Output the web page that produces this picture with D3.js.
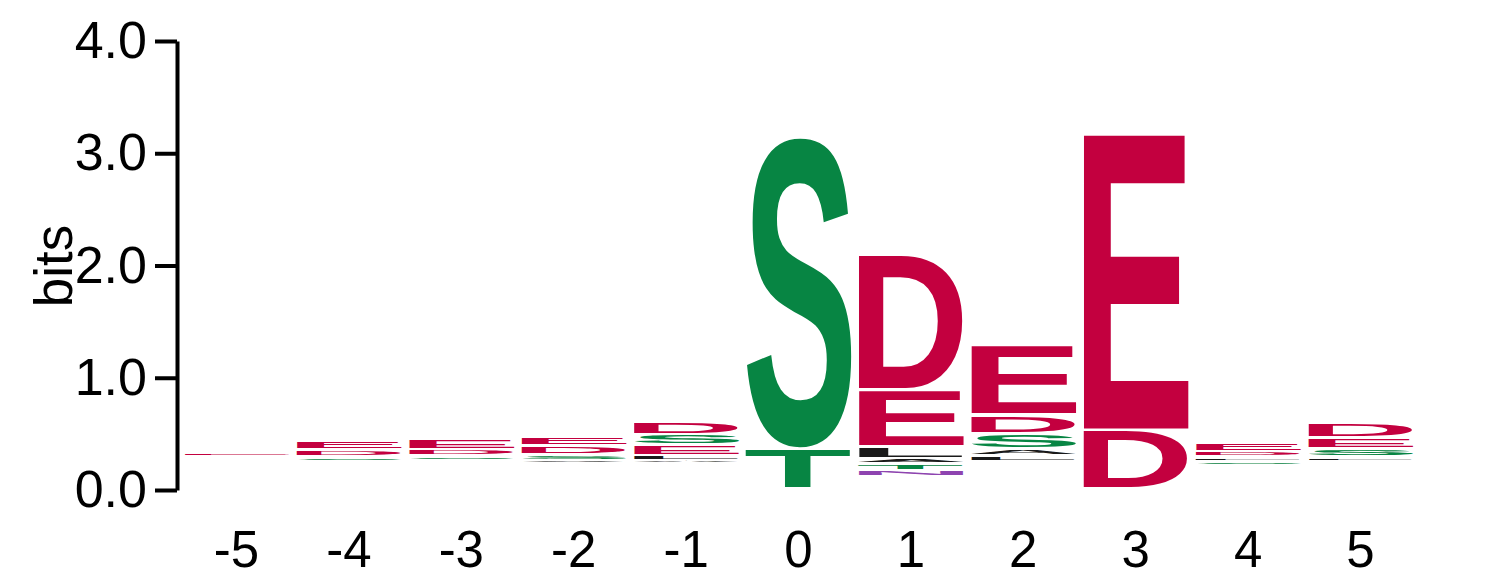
<!DOCTYPE html>
<html>
<head>
<meta charset="utf-8">
<script src="https://cdn.jsdelivr.net/npm/d3@7"></script>
<style>
  html, body { margin: 0; padding: 0; background: #fff; }
  svg { display: block; }
</style>
</head>
<body>
<svg id="chart" width="1486" height="583"></svg>
<script>
// ---- data (bits) ----
const positions = [-5, -4, -3, -2, -1, 0, 1, 2, 3, 4, 5];
const baseBits = [0.303, 0.258, 0.263, 0.236, 0.236, 0.011, 0.116, 0.258, 0.009, 0.214, 0.258];
const stackLetters = [
  ["E"],
  ["S", "D", "E"],
  ["S", "D", "E"],
  ["V", "S", "D", "E"],
  ["A", "L", "E", "S", "D"],
  ["T", "S"],
  ["N", "T", "A", "L", "E", "D"],
  ["L", "A", "S", "D", "E"],
  ["D", "E"],
  ["S", "L", "D", "E"],
  ["L", "S", "E", "D"]
];
const stackBits = [
  [0.036],
  [0.043, 0.062, 0.087],
  [0.043, 0.057, 0.096],
  [0.029, 0.053, 0.080, 0.083],
  [0.029, 0.045, 0.091, 0.096, 0.118],
  [0.356, 2.782],
  [0.060, 0.062, 0.044, 0.106, 0.506, 1.205],
  [0.050, 0.063, 0.134, 0.166, 0.619],
  [0.526, 2.641],
  [0.040, 0.040, 0.053, 0.081],
  [0.042, 0.068, 0.097, 0.127]
];
const yTicks = [0, 1, 2, 3, 4];

const colorOf = l => {
  if ("DE".includes(l)) return "#C3003F";
  if ("STGYC".includes(l)) return "#078543";
  if ("NQ".includes(l)) return "#8E44B0";
  if ("KRH".includes(l)) return "#1F4FB5";
  return "#1a1a1a";
};

const svg = d3.select("#chart");
const y = d3.scaleLinear().domain([0, 4]).range([490, 41]);
const x = d3.scaleBand().domain(positions).range([180.3, 1416.7])
  .paddingInner(0.057).paddingOuter(0.0285);

// glyph ink metrics
const FONT = "bold 100px 'Liberation Sans'";
const ctx = document.createElement("canvas").getContext("2d");
ctx.font = FONT;
const metrics = {};
function m(l) {
  if (!metrics[l]) {
    const t = ctx.measureText(l);
    metrics[l] = { L: t.actualBoundingBoxLeft, R: t.actualBoundingBoxRight,
                   A: t.actualBoundingBoxAscent, D: t.actualBoundingBoxDescent };
  }
  return metrics[l];
}

const logo = svg.append("g");
positions.forEach((p, i) => {
  let acc = baseBits[i];
  stackLetters[i].forEach((l, j) => {
    const b0 = acc, b1 = acc + stackBits[i][j];
    acc = b1;
    const yb = y(b0), yt = y(b1);
    const hpx = yb - yt;
    const inset = Math.min(1.5, 0.35 * hpx);
    const top = yt + inset, h = hpx - 2 * inset;
    const x0 = x(p), w = x.bandwidth();
    const g = m(l);
    const sx = w / (g.L + g.R), sy = h / (g.A + g.D);
    logo.append("text")
      .attr("transform", `translate(${x0},${top}) scale(${sx},${sy}) translate(${g.L},${g.A})`)
      .attr("font-family", "'Liberation Sans'")
      .attr("font-weight", "bold")
      .attr("font-size", 100)
      .attr("fill", colorOf(l))
      .text(l);
  });
});

// y axis
const yAxis = svg.append("g")
  .attr("transform", "translate(177,0)")
  .call(d3.axisLeft(y).tickValues(yTicks).tickFormat(d3.format(".1f"))
    .tickSize(22).tickSizeOuter(0).tickPadding(8));
yAxis.selectAll("path.domain").attr("stroke", "#000").attr("stroke-width", 4);
yAxis.selectAll(".tick line").attr("stroke", "#000").attr("stroke-width", 4);
yAxis.selectAll(".tick text")
  .attr("font-family", "'Liberation Sans', Arial, sans-serif")
  .attr("font-size", 52).attr("fill", "#000");

// x axis labels
const xAxis = svg.append("g")
  .attr("transform", "translate(0,531)")
  .call(d3.axisBottom(x).tickSize(0).tickPadding(0));
xAxis.select("path.domain").remove();
xAxis.selectAll(".tick text")
  .attr("font-family", "'Liberation Sans', Arial, sans-serif")
  .attr("font-size", 51).attr("fill", "#000");

// y label
svg.append("text")
  .attr("transform", "translate(72,266) rotate(-90)")
  .attr("text-anchor", "middle")
  .attr("font-family", "'Liberation Sans', Arial, sans-serif")
  .attr("font-size", 53)
  .attr("fill", "#000")
  .text("bits");
</script>
</body>
</html>
